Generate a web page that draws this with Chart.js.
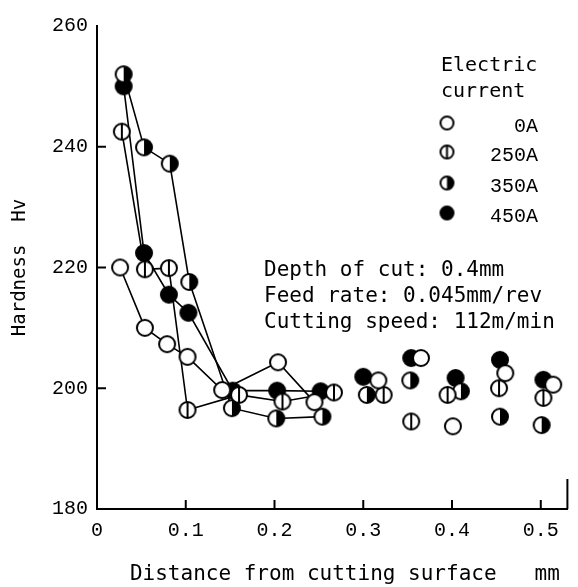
<!DOCTYPE html>
<html>
<head>
<meta charset="utf-8">
<script src="https://cdn.jsdelivr.net/npm/chart.js@4.4.1/dist/chart.umd.min.js"></script>
<style>
  html, body { margin: 0; padding: 0; background: #fff; }
</style>
</head>
<body>
<canvas id="myChart" width="578" height="587"></canvas>
<script>
// Hardness vs. distance from cutting surface, per electric current
const currents = ['0A', '250A', '350A', '450A'];
const xTicks = [0, 0.1, 0.2, 0.3, 0.4, 0.5];
const yTicks = [180, 200, 220, 240, 260];

// first `joined` points of each series are connected, the rest are loose
const dist0A   = [0.026, 0.054, 0.079, 0.102, 0.141, 0.204, 0.245, 0.317, 0.365, 0.401, 0.460, 0.514];
const hv0A     = [220.0, 210.0, 207.3, 205.2, 199.7, 204.3, 197.7, 201.3, 205.0, 193.7, 202.5, 200.6];
const dist250A = [0.028, 0.054, 0.081, 0.102, 0.160, 0.209, 0.267, 0.323, 0.354, 0.395, 0.453, 0.503];
const hv250A   = [242.5, 219.7, 219.9, 196.4, 198.9, 197.8, 199.3, 198.9, 194.5, 198.9, 200.0, 198.4];
const dist350A = [0.030, 0.053, 0.082, 0.104, 0.152, 0.202, 0.254, 0.304, 0.353, 0.410, 0.454, 0.501];
const hv350A   = [252.0, 239.9, 237.2, 217.6, 196.7, 195.0, 195.3, 198.9, 201.3, 199.5, 195.3, 193.9];
const dist450A = [0.030, 0.053, 0.081, 0.103, 0.153, 0.203, 0.252, 0.300, 0.354, 0.404, 0.454, 0.503];
const hv450A   = [250.0, 222.4, 215.5, 212.5, 199.6, 199.6, 199.5, 201.9, 205.0, 201.7, 204.7, 201.4];
const joined = [7, 7, 7, 7];

const notes = ['Depth of cut: 0.4mm', 'Feed rate: 0.045mm/rev', 'Cutting speed: 112m/min'];

// marker: 0 open, 1 open with vertical bar, 2 right half black, 3 black
function makeMarker(kind, r) {
  var c = document.createElement('canvas');
  var s = Math.ceil(r * 2 + 4);
  c.width = s; c.height = s;
  var g = c.getContext('2d');
  var m = s / 2;
  g.lineWidth = 2;
  g.strokeStyle = '#000';
  g.fillStyle = kind === 3 ? '#000' : '#fff';
  g.beginPath(); g.arc(m, m, r, 0, Math.PI * 2); g.fill();
  if (kind === 2) {
    g.fillStyle = '#000';
    g.beginPath(); g.moveTo(m, m - r); g.arc(m, m, r, -Math.PI / 2, Math.PI / 2); g.closePath(); g.fill();
  }
  if (kind === 1) {
    g.beginPath(); g.moveTo(m, m - r); g.lineTo(m, m + r); g.stroke();
  }
  g.beginPath(); g.arc(m, m, r, 0, Math.PI * 2); g.stroke();
  return c;
}

const xs = [dist0A, dist250A, dist350A, dist450A];
const ys = [hv0A, hv250A, hv350A, hv450A];

const datasets = currents.map(function (name, i) {
  var n = joined[i];
  return {
    label: name,
    data: xs[i].map(function (x, k) { return { x: x, y: ys[i][k] }; }),
    showLine: true,
    borderColor: '#000',
    borderWidth: 1.6,
    tension: 0,
    pointStyle: makeMarker(i, 8),
    pointRadius: 9,
    segment: {
      borderColor: function (ctx) { return ctx.p1DataIndex < n ? '#000' : 'rgba(0,0,0,0)'; }
    }
  };
});

const decor = {
  id: 'decor',
  afterDraw(chart) {
    const { ctx, chartArea, scales: { x, y } } = chart;
    ctx.save();
    ctx.strokeStyle = '#000';
    ctx.lineWidth = 2;
    // inward tick marks
    xTicks.slice(1).forEach(function (v) {
      var px = x.getPixelForValue(v);
      ctx.beginPath(); ctx.moveTo(px, chartArea.bottom); ctx.lineTo(px, chartArea.bottom - 9); ctx.stroke();
    });
    yTicks.slice(1, -1).forEach(function (v) {
      var py = y.getPixelForValue(v);
      ctx.beginPath(); ctx.moveTo(chartArea.left, py); ctx.lineTo(chartArea.left + 9, py); ctx.stroke();
    });
    // short right edge
    ctx.beginPath(); ctx.moveTo(chartArea.right, chartArea.bottom); ctx.lineTo(chartArea.right, chartArea.bottom - 30); ctx.stroke();

    // legend
    ctx.fillStyle = '#000';
    ctx.textBaseline = 'middle';
    ctx.textAlign = 'left';
    ctx.font = '20px "DejaVu Sans Mono"';
    ctx.fillText('Electric', 441, 66);
    ctx.fillText('current', 441, 92);
    var rowY = [123, 152, 183, 213];
    ctx.font = '20px "Liberation Mono"';
    ctx.textAlign = 'right';
    currents.forEach(function (name, i) {
      var img = makeMarker(i, 6.5);
      ctx.drawImage(img, 447 - img.width / 2, rowY[i] - img.height / 2);
      ctx.fillText(name, 538, rowY[i] + 4);
    });

    // cutting conditions
    ctx.textAlign = 'left';
    ctx.font = '21px "DejaVu Sans Mono"';
    notes.forEach(function (t, i) {
      ctx.fillText(t, 264, 271 + i * 26);
    });
    ctx.restore();
  }
};

const config = {
  type: 'scatter',
  data: { datasets: datasets },
  options: {
    responsive: false,
    animation: false,
    layout: { padding: { top: 26, right: 5, left: 0, bottom: 0 } },
    plugins: { legend: { display: false }, tooltip: { enabled: false } },
    scales: {
      x: {
        type: 'linear',
        min: 0,
        max: 0.53,
        afterBuildTicks: function (s) { s.ticks = xTicks.map(function (v) { return { value: v }; }); },
        afterFit: function (s) { s.height = 78; },
        grid: { display: false, drawTicks: false },
        border: { display: true, color: '#000', width: 2 },
        ticks: {
          color: '#000',
          padding: 10,
          maxRotation: 0,
          font: { family: 'Liberation Mono', size: 20 },
          callback: function (v) { return v === 0 ? '0' : v.toFixed(1); }
        },
        title: {
          display: true,
          text: '  Distance from cutting surface   mm',
          color: '#000',
          font: { family: 'DejaVu Sans Mono', size: 21 },
          padding: { top: 0, bottom: 0 }
        }
      },
      y: {
        min: 180,
        max: 260,
        afterBuildTicks: function (s) { s.ticks = yTicks.map(function (v) { return { value: v }; }); },
        afterFit: function (s) { s.width = 97; },
        grid: { display: false, drawTicks: false },
        border: { display: true, color: '#000', width: 2 },
        ticks: {
          color: '#000',
          padding: 9,
          font: { family: 'Liberation Mono', size: 20 }
        },
        title: {
          display: true,
          text: 'Hardness  Hv',
          color: '#000',
          font: { family: 'DejaVu Sans Mono', size: 19 },
          padding: { top: 9, bottom: 0 }
        }
      }
    }
  },
  plugins: [decor]
};

const myChart = new Chart(document.getElementById('myChart'), config);
</script>
</body>
</html>
